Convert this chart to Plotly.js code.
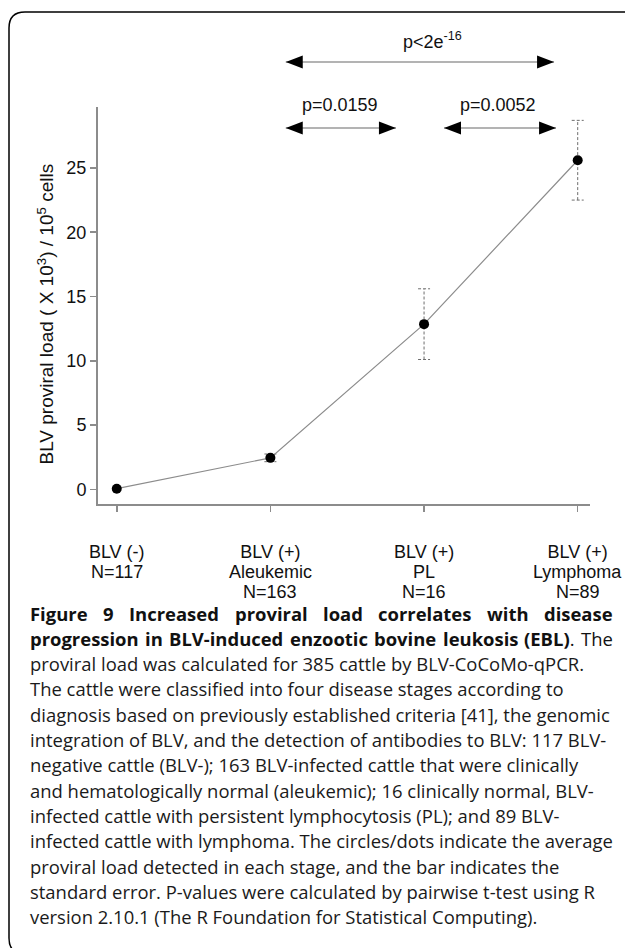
<!DOCTYPE html>
<html>
<head>
<meta charset="utf-8">
<script src="https://cdn.plot.ly/plotly-3.0.1.min.js"></script>
<style>
html,body{margin:0;padding:0;background:#fff;overflow:hidden}
#chart{width:625px;height:948px}
</style>
</head>
<body>
<div id="chart"></div>
<script>
// ---------------- data ----------------
const stageIndex = [1, 2, 3, 4];
const stageLine1 = ["BLV (-)", "BLV (+)", "BLV (+)", "BLV (+)"];
const stageLine2 = ["N=117", "Aleukemic", "PL", "Lymphoma"];
const stageLine3 = ["", "N=163", "N=16", "N=89"];
const meanLoad = [0.05, 2.45, 12.85, 25.6];
const stdError = [0.02, 0.3, 2.75, 3.1];
const yTicks = [0, 5, 10, 15, 20, 25];
const pLabels = ["p&lt;2e<sup>-16</sup>", "p=0.0159", "p=0.0052"];
const yTitle = "BLV proviral load ( X 10<sup>3</sup>) / 10<sup>5</sup> cells";
const captionLines = [
  "<b>Figure 9 Increased proviral load correlates with disease</b>",
  "<b>progression in BLV-induced enzootic bovine leukosis (EBL)</b>. The",
  "proviral load was calculated for 385 cattle by BLV-CoCoMo-qPCR.",
  "The cattle were classified into four disease stages according to",
  "diagnosis based on previously established criteria [41], the genomic",
  "integration of BLV, and the detection of antibodies to BLV: 117 BLV-",
  "negative cattle (BLV-); 163 BLV-infected cattle that were clinically",
  "and hematologically normal (aleukemic); 16 clinically normal, BLV-",
  "infected cattle with persistent lymphocytosis (PL); and 89 BLV-",
  "infected cattle with lymphoma. The circles/dots indicate the average",
  "proviral load detected in each stage, and the bar indicates the",
  "standard error. P-values were calculated by pairwise t-test using R",
  "version 2.10.1 (The R Foundation for Statistical Computing)."
];

// ---------------- layout geometry (positions, not data) ----------------
const FW = 625, FH = 948;
const L = 98, R = 35, T = 107, B = 444;
const W = FW - L - R, H = FH - T - B;
const xRange = [0.878, 4.08];
const yRange = [-1.14, 29.74];
const xp = px => (px - L) / W;            // pixel -> paper
const yp = py => 1 - (py - T) / H;
const dx = x => (x - xRange[0]) / (xRange[1] - xRange[0]);   // data -> paper
const dy = y => (y - yRange[0]) / (yRange[1] - yRange[0]);

// p-value arrows (in data units of the axes, may lie above the plot)
const arrowFrom = [2.10, 2.10, 3.13];
const arrowTo   = [3.846, 2.817, 3.859];
const arrowY    = [33.24, 28.1, 28.1];
const labelX    = [3.055, 2.454, 3.482];
const labelY    = [34.95, 29.93, 29.93];

const axisFont = "Liberation Sans, Arial, sans-serif";
const capFamily = "Open Sans";
const gray = "#8c8c8c";
const ink = "#111";

// ---------------- traces ----------------
const capHalf = 6 / (W / (xRange[1] - xRange[0]));
const ebx = [], eby = [];
stageIndex.forEach((x, i) => {
  const e = stdError[i];
  if (e < 0.1) return;
  const lo = meanLoad[i] - e, hi = meanLoad[i] + e;
  ebx.push(x, x, null, x - capHalf, x + capHalf, null, x - capHalf, x + capHalf, null);
  eby.push(lo, hi, null, hi, hi, null, lo, lo, null);
});

const traces = [
  {
    x: ebx, y: eby, type: "scatter", mode: "lines",
    line: {color: "#6e6e6e", width: 1, dash: "3px,2px"},
    hoverinfo: "skip", showlegend: false, cliponaxis: false
  },
  {
    x: stageIndex, y: meanLoad, type: "scatter", mode: "lines+markers",
    line: {color: gray, width: 1.2},
    marker: {color: "#000", size: 10},
    showlegend: false, cliponaxis: false
  }
];

// ---------------- shapes ----------------
const shapes = [];
// rounded figure frame
const fl = 9, ft = 12, fr = 665, fb = 954, rad = 16;
shapes.push({
  type: "path", xref: "paper", yref: "paper", layer: "above",
  path: "M" + xp(fl + rad) + "," + yp(ft) +
        " L" + xp(fr) + "," + yp(ft) +
        " L" + xp(fr) + "," + yp(fb) +
        " L" + xp(fl + rad) + "," + yp(fb) +
        " Q" + xp(fl) + "," + yp(fb) + " " + xp(fl) + "," + yp(fb - rad) +
        " L" + xp(fl) + "," + yp(ft + rad) +
        " Q" + xp(fl) + "," + yp(ft) + " " + xp(fl + rad) + "," + yp(ft) + " Z",
  line: {color: "#000", width: 1.5}
});
// arrows
const headLen = 17, headHalf = 6.5;
arrowFrom.forEach((x0, i) => {
  const x1 = arrowTo[i], y = dy(arrowY[i]);
  shapes.push({type: "line", xref: "paper", yref: "paper", x0: dx(x0), x1: dx(x1), y0: y, y1: y,
               line: {color: "#9a9a9a", width: 1.5}, layer: "above"});
  shapes.push({type: "path", xref: "paper", yref: "paper", xsizemode: "pixel", ysizemode: "pixel",
               xanchor: dx(x0), yanchor: y, layer: "above",
               path: "M0,0 L" + headLen + "," + headHalf + " L" + headLen + ",-" + headHalf + " Z",
               fillcolor: "#000", line: {width: 0}});
  shapes.push({type: "path", xref: "paper", yref: "paper", xsizemode: "pixel", ysizemode: "pixel",
               xanchor: dx(x1), yanchor: y, layer: "above",
               path: "M0,0 L-" + headLen + "," + headHalf + " L-" + headLen + ",-" + headHalf + " Z",
               fillcolor: "#000", line: {width: 0}});
});

// ---------------- annotations ----------------
const annotations = [];
pLabels.forEach((t, i) => {
  annotations.push({x: dx(labelX[i]), y: dy(labelY[i]), xref: "paper", yref: "paper", text: t,
                    showarrow: false, xanchor: "center", yanchor: "middle",
                    font: {family: axisFont, size: 18, color: ink}});
});
// y-axis title
annotations.push({x: xp(45), y: yp(314.5), xref: "paper", yref: "paper", text: yTitle,
                  showarrow: false, textangle: -90, xanchor: "center", yanchor: "middle",
                  font: {family: axisFont, size: 19, color: ink}});
// second and third rows of category labels
const row2Y = 572, row3Y = 592;
stageIndex.forEach((x, i) => {
  annotations.push({x: dx(x), y: yp(row2Y), xref: "paper", yref: "paper", text: stageLine2[i],
                    showarrow: false, xanchor: "center", yanchor: "middle",
                    font: {family: axisFont, size: 18, color: ink}});
  if (stageLine3[i]) {
    annotations.push({x: dx(x), y: yp(row3Y), xref: "paper", yref: "paper", text: stageLine3[i],
                      showarrow: false, xanchor: "center", yanchor: "middle",
                      font: {family: axisFont, size: 18, color: ink}});
  }
});

// caption
const ctx = document.createElement("canvas").getContext("2d");
function measure(t, bold, size) {
  ctx.font = (bold ? "700 " : "400 ") + size + "px \"" + capFamily + "\"";
  return ctx.measureText(t).width;
}
const capLeft = 30, capRight = 613;
const capSize = 100 * 583 / measure(captionLines[9], false, 100);
const capY0 = 613, capDY = 25.3;
const justified = 2;

function tokenize(line) {
  let bold = false;
  return line.split(" ").map(tok => {
    const segs = [];
    let rest = tok;
    while (rest.length) {
      if (rest.startsWith("<b>")) { bold = true; rest = rest.slice(3); continue; }
      if (rest.startsWith("</b>")) { bold = false; rest = rest.slice(4); continue; }
      const nb = rest.search(/<\/?b>/);
      const piece = nb < 0 ? rest : rest.slice(0, nb);
      segs.push({t: piece, b: bold});
      rest = nb < 0 ? "" : rest.slice(nb);
    }
    return segs;
  });
}

captionLines.forEach((line, i) => {
  const y = yp(capY0 + i * capDY);
  if (i < justified) {
    const toks = tokenize(line);
    const widths = toks.map(s => s.reduce((a, g) => a + measure(g.t, g.b, capSize), 0));
    const total = widths.reduce((a, b) => a + b, 0);
    const gap = (capRight - capLeft - total) / (toks.length - 1);
    let x = capLeft;
    toks.forEach((s, k) => {
      annotations.push({x: xp(x), y: y, xref: "paper", yref: "paper", showarrow: false,
                        xanchor: "left", yanchor: "middle", borderpad: 0, borderwidth: 0,
                        text: s.map(g => g.b ? "<b>" + g.t + "</b>" : g.t).join(""),
                        font: {family: capFamily, size: capSize, color: ink}});
      x += widths[k] + gap;
    });
  } else {
    annotations.push({x: xp(capLeft), y: y, xref: "paper", yref: "paper", showarrow: false,
                      xanchor: "left", yanchor: "middle", borderpad: 0, borderwidth: 0,
                      text: line, font: {family: capFamily, size: capSize, color: "#1a1a1a"}});
  }
});

const layout = {
  width: FW, height: FH,
  margin: {l: L, r: R, t: T, b: B, pad: 0},
  paper_bgcolor: "#fff", plot_bgcolor: "#fff",
  showlegend: false,
  xaxis: {
    range: xRange, showgrid: false, zeroline: false,
    showline: true, linecolor: gray, linewidth: 2,
    ticks: "outside", ticklen: 6, tickwidth: 1.5, tickcolor: gray,
    tickvals: stageIndex, ticktext: stageLine1, ticklabelstandoff: 24,
    tickfont: {family: axisFont, size: 18, color: ink},
    fixedrange: true
  },
  yaxis: {
    range: yRange, showgrid: false, zeroline: false,
    showline: true, linecolor: gray, linewidth: 2,
    ticks: "outside", ticklen: 6, tickwidth: 1.5, tickcolor: gray,
    tickvals: yTicks, ticktext: yTicks.map(String),
    tickfont: {family: axisFont, size: 18, color: ink},
    fixedrange: true
  },
  shapes: shapes,
  annotations: annotations
};

Plotly.newPlot("chart", traces, layout, {displayModeBar: false, staticPlot: true});
</script>
</body>
</html>
